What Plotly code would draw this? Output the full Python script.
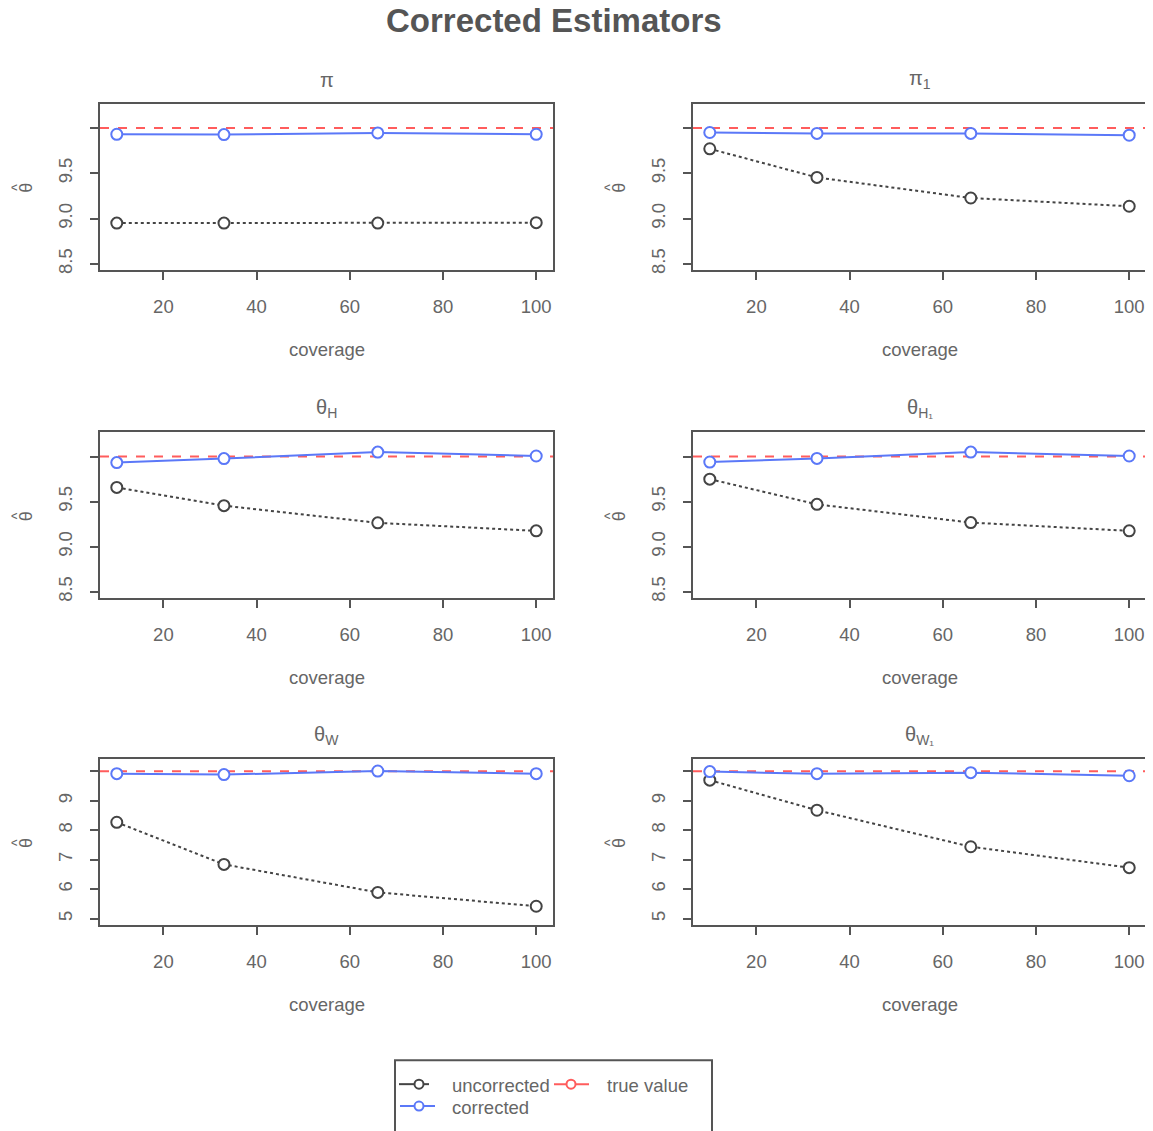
import plotly.graph_objects as go
from plotly.subplots import make_subplots

# ---------------- data ----------------
coverage = [10, 33, 66, 100]
true_value = 10

panel_titles = ["π", "π<sub>1</sub>", "θ<sub>H</sub>", "θ<sub>H₁</sub>", "θ<sub>W</sub>", "θ<sub>W₁</sub>"]

uncorrected_pi = [8.95, 8.95, 8.95, 8.955]
corrected_pi = [9.93, 9.927, 9.945, 9.93]

uncorrected_pi1 = [9.77, 9.454, 9.227, 9.136]
corrected_pi1 = [9.95, 9.94, 9.94, 9.92]

uncorrected_thH = [9.658, 9.456, 9.265, 9.176]
corrected_thH = [9.934, 9.978, 10.05, 10.007]

uncorrected_thH1 = [9.75, 9.47, 9.268, 9.176]
corrected_thH1 = [9.94, 9.98, 10.05, 10.007]

uncorrected_thW = [8.27, 6.84, 5.89, 5.42]
corrected_thW = [9.92, 9.89, 10.01, 9.92]

uncorrected_thW1 = [9.70, 8.68, 7.44, 6.73]
corrected_thW1 = [9.99, 9.92, 9.955, 9.85]

x_ticks = [20, 40, 60, 80, 100]
y_ticks_top = [8.5, 9.0, 9.5]
y_ticklabels_top = ["8.5", "9.0", "9.5"]
y_ticks_bottom = [5, 6, 7, 8, 9]
y_ticklabels_bottom = ["5", "6", "7", "8", "9"]
y_unlabelled_tick = [10]

ylim_top = [8.5, 10.2]
ylim_bottom = [5.0, 10.2]
xlim = [10, 100]

uncorrected = [uncorrected_pi, uncorrected_pi1, uncorrected_thH, uncorrected_thH1, uncorrected_thW, uncorrected_thW1]
corrected = [corrected_pi, corrected_pi1, corrected_thH, corrected_thH1, corrected_thW, corrected_thW1]

# ---------------- style ----------------
OX, OY = 8, 8            # page body margin of the browser
W, H = 1153 - OX, 1131 - OY
FONT = "Liberation Sans, Arial, sans-serif"
AXIS_COL = "#555555"
TXT_COL = "#666666"
BLACK = "#444444"
BLUE = "#5b78f8"
RED = "#ff5c5c"
TICK_SIZE = 18.5


def px(x):
    return (x - OX) / W


def py(y):
    return 1 - (y - OY) / H


def clip(v):
    return min(1.0, max(0.0, v))


def r_range(lim):
    d = (lim[1] - lim[0]) * 0.04
    return [lim[0] - d, lim[1] + d]


# panel boxes in page pixels (left, right) / (top, bottom)
col_px = [(100, 553), (693, 1146)]
row_px = [(104, 271), (434, 600), (762, 928)]

fig = make_subplots(rows=3, cols=2)

annotations = []
shapes = []

for i in range(6):
    r, c = divmod(i, 2)
    row, col = r + 1, c + 1
    xl, xr = col_px[c]
    yt, yb = row_px[r]
    xdom = [clip(px(xl)), clip(px(xr))]
    ydom = [clip(py(yb)), clip(py(yt))]
    bottom = r == 2
    yt_vals = y_ticks_bottom if bottom else y_ticks_top
    yt_text = y_ticklabels_bottom if bottom else y_ticklabels_top
    ylim = ylim_bottom if bottom else ylim_top

    fig.add_trace(go.Scatter(
        x=coverage, y=uncorrected[i], mode="lines+markers",
        line=dict(color=BLACK, width=2, dash="dot"),
        marker=dict(symbol="circle", size=11, color="white", line=dict(color=BLACK, width=2)),
        showlegend=False, name="uncorrected"), row=row, col=col)
    fig.add_trace(go.Scatter(
        x=coverage, y=corrected[i], mode="lines+markers",
        line=dict(color=BLUE, width=2),
        marker=dict(symbol="circle", size=11, color="white", line=dict(color=BLUE, width=2)),
        showlegend=False, name="corrected"), row=row, col=col)

    xa = "x" if i == 0 else f"x{i+1}"
    ya = "y" if i == 0 else f"y{i+1}"
    shapes.append(dict(type="line", xref=f"{xa} domain", yref=ya, x0=0, x1=1,
                       y0=true_value, y1=true_value, layer="below",
                       line=dict(color=RED, width=2, dash="dash")))

    fig.update_xaxes(row=row, col=col, domain=xdom, range=r_range(xlim),
                     tickvals=x_ticks, ticks="outside", ticklen=8, tickwidth=2,
                     tickcolor=AXIS_COL, showline=True, linecolor=AXIS_COL, linewidth=2,
                     mirror=True, showgrid=False, zeroline=False,
                     tickfont=dict(family=FONT, size=TICK_SIZE, color=TXT_COL),
                     ticklabelstandoff=11)
    fig.update_yaxes(row=row, col=col, domain=ydom, range=r_range(ylim),
                     tickvals=yt_vals, ticktext=yt_text, tickangle=-90,
                     ticks="outside", ticklen=8, tickwidth=2,
                     tickcolor=AXIS_COL, showline=True, linecolor=AXIS_COL, linewidth=2,
                     mirror=True, showgrid=False, zeroline=False,
                     minor=dict(tickmode="array", tickvals=y_unlabelled_tick, ticks="outside",
                                ticklen=8, tickwidth=2, tickcolor=AXIS_COL, showgrid=False),
                     tickfont=dict(family=FONT, size=TICK_SIZE, color=TXT_COL),
                     ticklabelstandoff=11)

    cx = px((xl + xr) / 2)
    # subplot title
    annotations.append(dict(text=panel_titles[i], x=cx, y=py(yt - 24),
                            xref="paper", yref="paper", showarrow=False,
                            xanchor="center", yanchor="middle",
                            font=dict(family=FONT, size=20, color=TXT_COL)))
    # x title
    annotations.append(dict(text="coverage", x=cx, y=py(yb + 80),
                            xref="paper", yref="paper", showarrow=False,
                            xanchor="center", yanchor="middle",
                            font=dict(family=FONT, size=TICK_SIZE, color=TXT_COL)))
    # y title: theta with a hat (rotated)
    ymid = (yt + yb) / 2
    annotations.append(dict(text="θ", x=px(xl - 74), y=py(ymid + 1),
                            xref="paper", yref="paper", showarrow=False,
                            textangle=-90, xanchor="center", yanchor="middle",
                            font=dict(family=FONT, size=18, color=TXT_COL)))
    annotations.append(dict(text="^", x=px(xl - 83), y=py(ymid + 1),
                            xref="paper", yref="paper", showarrow=False,
                            textangle=-90, xanchor="center", yanchor="middle",
                            font=dict(family=FONT, size=14, color=TXT_COL)))

# main title
annotations.append(dict(text="<b>Corrected Estimators</b>", x=px(554), y=py(21),
                        xref="paper", yref="paper", showarrow=False,
                        xanchor="center", yanchor="middle",
                        font=dict(family=FONT, size=33, color="#555555")))

# ---------------- legend (drawn like R's legend box) ----------------
shapes.append(dict(type="rect", xref="paper", yref="paper",
                   x0=px(395), x1=px(712), y0=py(1145), y1=py(1064),
                   line=dict(color=AXIS_COL, width=2), fillcolor="white", layer="above"))

legend_items = [
    ("uncorrected", BLACK, 399, 429, 419, 1088, 450),
    ("true value", RED, 554, 589, 571, 1088, 605),
    ("corrected", BLUE, 400, 435, 419, 1110, 450),
]
for label, colr, lx0, lx1, cxm, ly, tx in legend_items:
    shapes.append(dict(type="line", xref="paper", yref="paper",
                       x0=px(lx0), x1=px(lx1), y0=py(ly), y1=py(ly),
                       line=dict(color=colr, width=2), layer="above"))
    shapes.append(dict(type="circle", xref="paper", yref="paper",
                       x0=px(cxm - 4.5), x1=px(cxm + 4.5), y0=py(ly + 4.5), y1=py(ly - 4.5),
                       line=dict(color=colr, width=2), fillcolor="white", layer="above"))
    annotations.append(dict(text=label, x=px(tx), y=py(ly + 1), xref="paper", yref="paper",
                            showarrow=False, xanchor="left", yanchor="middle",
                            font=dict(family=FONT, size=TICK_SIZE, color=TXT_COL)))

fig.update_layout(width=W, height=H, margin=dict(l=0, r=0, t=0, b=0),
                  paper_bgcolor="white", plot_bgcolor="white",
                  showlegend=False, annotations=annotations, shapes=shapes,
                  font=dict(family=FONT, color=TXT_COL))

fig.write_html("out.html")
